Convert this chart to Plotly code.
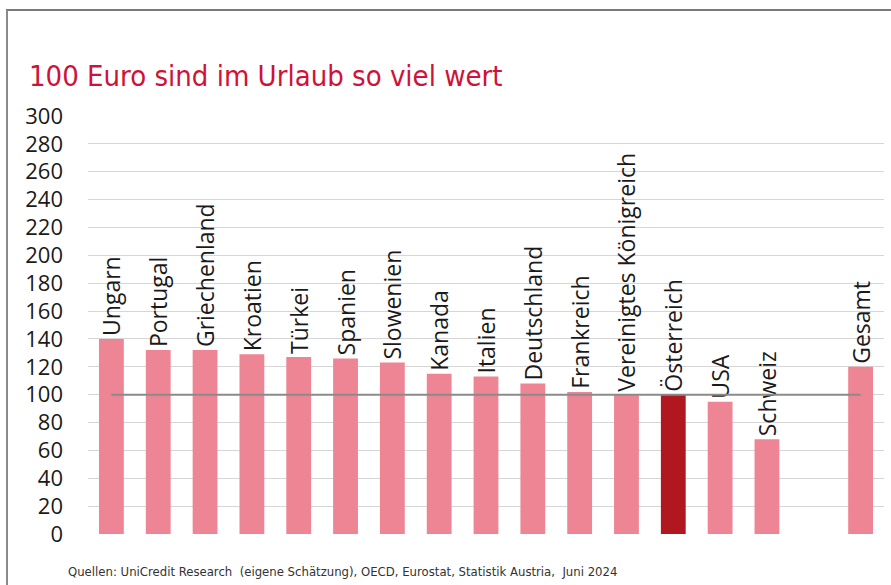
import plotly.graph_objects as go

categories = ["Ungarn", "Portugal", "Griechenland", "Kroatien", "Türkei", "Spanien",
              "Slowenien", "Kanada", "Italien", "Deutschland", "Frankreich",
              "Vereinigtes Königreich", "Österreich", "USA", "Schweiz", " ", "Gesamt"]
values = [140, 132, 132, 129, 127, 126, 123, 115, 113, 108, 102, 100, 100, 95, 68, None, 120]
labels = [c if c.strip() else "" for c in categories]
highlight = "Österreich"
tick_vals = list(range(0, 301, 20))
ref_value = 100

PINK = "#ee8594"
DARK = "#b0171f"
colors = [DARK if c == highlight else PINK for c in categories]
NARROW = "DejaVu Sans Condensed, DejaVu Sans, sans-serif"

# plot area geometry (px)
W, H = 891, 585
L, R, T, B = 88, 7, 116, 51
pw, ph = W - L - R, H - T - B

def px_x(x):
    return (x - L) / pw

def px_y(y):
    return (H - B - y) / ph

fig = go.Figure()
fig.add_trace(go.Bar(
    x=categories, y=values, marker_color=colors, marker_line_width=0,
    text=labels, textposition="outside", textangle=-90, constraintext="none",
    outsidetextfont=dict(family="Open Sans", size=23, color="#1a1a1a"),
    cliponaxis=False, hoverinfo="x+y",
))
fig.add_trace(go.Scatter(
    x=[categories[0], categories[-1]], y=[ref_value, ref_value], mode="lines",
    line=dict(color="#8a8a8a", width=2), hoverinfo="skip",
))

fig.update_layout(
    width=W, height=H,
    margin=dict(l=L, r=R, t=T, b=B),
    paper_bgcolor="white", plot_bgcolor="white",
    showlegend=False, bargap=0.47,
    title=dict(text="100 Euro sind im Urlaub so viel wert",
               font=dict(family=NARROW, size=29, color="#cf1237"),
               x=29 / W, xanchor="left", xref="container",
               y=1 - 76 / H, yanchor="middle", yref="container"),
    xaxis=dict(showticklabels=False, showgrid=False, zeroline=False, showline=False,
               range=[-0.5, 16.5], fixedrange=True),
    yaxis=dict(range=[0, 300], tickvals=tick_vals, showgrid=True, gridcolor="#d6d6d6",
               gridwidth=1, zeroline=False, showline=False,
               tickfont=dict(family="Open Sans", size=22, color="#1a1a1a"),
               ticklabelstandoff=24),
    font=dict(family="Open Sans"),
)

fig.add_annotation(
    text="Quellen: UniCredit Research  (eigene Schätzung), OECD, Eurostat, Statistik Austria,  Juni 2024",
    xref="paper", yref="paper", x=px_x(66), y=px_y(571), xanchor="left", yanchor="middle",
    showarrow=False, font=dict(family=NARROW, size=13, color="#333333"),
)

# frame (top and left border)
fig.add_shape(type="line", xref="paper", yref="paper", x0=px_x(6), x1=px_x(W + 5),
              y0=px_y(10), y1=px_y(10), line=dict(color="#7a7a7a", width=2))
fig.add_shape(type="line", xref="paper", yref="paper", x0=px_x(7), x1=px_x(7),
              y0=px_y(10), y1=px_y(H + 5), line=dict(color="#8a8a8a", width=2))

fig.write_html("out.html", config={"displayModeBar": False},
               post_script="document.body.style.margin='0';")
